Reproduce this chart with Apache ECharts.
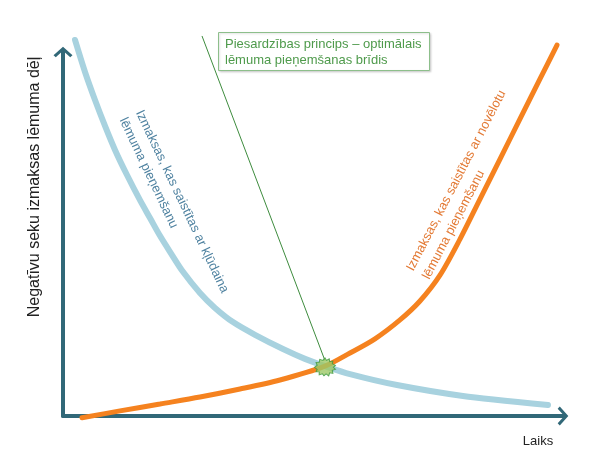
<!DOCTYPE html>
<html>
<head>
<meta charset="utf-8">
<script src="https://cdn.jsdelivr.net/npm/echarts@6/dist/echarts.min.js"></script>
<style>html,body{margin:0;padding:0;background:#fff}#c{width:612px;height:459px}</style>
</head>
<body>
<div id="c"></div>
<script>
// Time axis (0..100), cost axis (0..100)
var earlyTime = [2.4, 4.4, 6.4, 8.4, 10.4, 12.8, 15.4, 17.4, 19.4, 21.4, 24.0, 27.4, 30.4, 34.0, 38.4, 44.0, 48.4, 52.4, 57.4, 66.8, 80.0, 97.0];
var earlyCost = [103.3, 94.5, 86.8, 79.7, 73.1, 66.2, 59.3, 54.4, 49.5, 45.1, 39.6, 33.8, 29.7, 25.8, 22.3, 18.4, 15.7, 13.7, 11.5, 8.5, 5.5, 3.0];
var lateTime = [3.8, 11.4, 19.4, 27.4, 35.4, 43.4, 52.4, 57.4, 62.4, 67.4, 71.4, 75.4, 79.4, 83.4, 87.4, 91.4, 95.4, 98.8];
var lateCost = [-0.5, 1.4, 3.3, 5.2, 7.4, 9.9, 13.7, 17.3, 21.2, 26.4, 31.6, 38.7, 48.6, 59.6, 70.6, 81.6, 92.6, 101.9];
var optimumPoint = [52.4, 13.5];
var leaderTime = [27.8, 52.4];
var leaderCost = [104.4, 15.2];

var xAxisName = 'Laiks';
var yAxisName = 'Negatīvu seku izmaksas lēmuma dēļ';
var earlyLabel = 'Izmaksas, kas saistītas ar kļūdaina\nlēmuma pieņemšanu';
var lateLabel = 'Izmaksas, kas saistītas ar novēlotu\nlēmuma pieņemšanu';
var boxLabel = 'Piesardzības princips – optimālais\nlēmuma pieņemšanas brīdis';

function zip(a, b) { return a.map(function (v, i) { return [v, b[i]]; }); }

var FONT = '"Liberation Sans", Arial, sans-serif';
var AXIS_COLOR = '#316878';
var chevron = 'path://M10,0 L20,9 L17.6,11.2 L10,4.2 L2.4,11.2 L0,9 Z';
var blob = 'path://M10,0 L11.5,2.5 L14,1 L14.5,3.8 L17.5,3.2 L17,6 L20,7.5 L18,9.5 L20,11.5 L17,12.5 L17.5,15.5 L14.5,15 L13.5,18 L11,16 L9,18 L7.5,16 L4.5,17 L4.5,14 L1.5,14 L2.5,11.5 L0,9.5 L2.5,7.5 L1.5,4.5 L4.5,4.5 L5,1.5 L8,2.5 Z';

var chart = echarts.init(document.getElementById('c'));
chart.setOption({
  animation: false,
  backgroundColor: '#ffffff',
  grid: { left: 63, right: 49, top: 52, bottom: 43 },
  xAxis: {
    type: 'value', min: 0, max: 100,
    axisLine: { show: true, onZero: false, lineStyle: { color: AXIS_COLOR, width: 4 },
      symbol: ['none', chevron], symbolSize: [19, 11] },
    axisTick: { show: false }, axisLabel: { show: false }, splitLine: { show: false }
  },
  yAxis: {
    type: 'value', min: 0, max: 100,
    axisLine: { show: true, onZero: false, lineStyle: { color: AXIS_COLOR, width: 4 },
      symbol: ['none', chevron], symbolSize: [19, 11] },
    axisTick: { show: false }, axisLabel: { show: false }, splitLine: { show: false }
  },
  series: [
    {
      type: 'line', data: zip(leaderTime, leaderCost), clip: false, symbol: 'none',
      lineStyle: { color: '#3E8C3E', width: 1 }, z: 1
    },
    {
      type: 'line', data: zip(earlyTime, earlyCost), smooth: 0.3, clip: false, symbol: 'none',
      lineStyle: { color: '#A8D2DF', width: 6, cap: 'round' }, z: 2
    },
    {
      type: 'line', data: zip(lateTime, lateCost), smooth: 0.3, clip: false, symbol: 'none',
      lineStyle: { color: '#F5821F', width: 5, cap: 'round' }, z: 3
    },
    {
      type: 'scatter', data: [optimumPoint], clip: false, z: 5,
      symbol: blob,
      symbolSize: [21, 18],
      itemStyle: { color: '#9CC866', borderColor: '#3E9A3E', borderWidth: 1 }
    }
  ],
  title: {
    text: boxLabel, left: 218, top: 32,
    padding: [4, 8, 3, 7],
    borderColor: '#8DBF8B', borderWidth: 1, backgroundColor: '#ffffff',
    shadowColor: 'rgba(0,0,0,0.15)', shadowBlur: 2, shadowOffsetX: 1, shadowOffsetY: 1,
    textStyle: { fontFamily: FONT, fontSize: 13, fontWeight: 'normal', color: '#4E9A4B', lineHeight: 16 }
  },
  graphic: [
    {
      type: 'text', x: 35, y: 187, rotation: Math.PI / 2,
      style: { text: yAxisName, fontFamily: FONT, fontSize: 16, fill: '#222', align: 'center', verticalAlign: 'middle' }
    },
    {
      type: 'text', x: 538, y: 441,
      style: { text: xAxisName, fontFamily: FONT, fontSize: 13, fill: '#222', align: 'center', verticalAlign: 'middle' }
    },
    {
      type: 'text', x: 147, y: 107, rotation: -64.6 * Math.PI / 180,
      style: { text: earlyLabel, fontFamily: FONT, fontSize: 13, lineHeight: 18, fill: '#4F82A0', align: 'left', verticalAlign: 'top' }
    },
    {
      type: 'text', x: 402, y: 266, rotation: 62.6 * Math.PI / 180,
      style: { text: lateLabel, fontFamily: FONT, fontSize: 13, lineHeight: 18, fill: '#E37A35', align: 'left', verticalAlign: 'top' }
    }
  ]
});
</script>
</body>
</html>
